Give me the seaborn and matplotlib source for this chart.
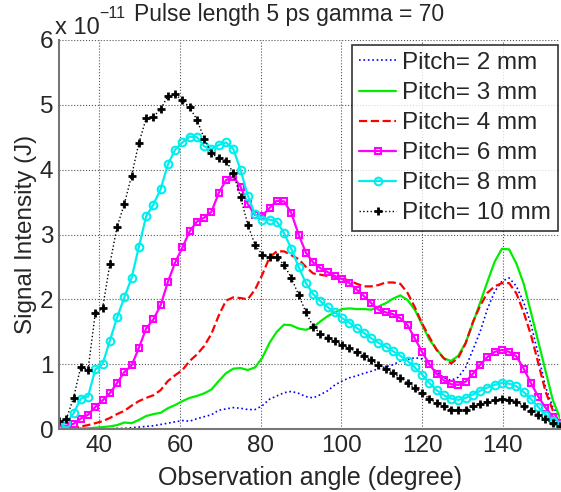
import matplotlib
matplotlib.use("Agg")
import matplotlib.pyplot as plt
import pandas as pd
import numpy as np
import seaborn as sns

sns.set_style("white")
plt.rcParams['font.family'] = ['Liberation Sans', 'DejaVu Sans']

# observation angle grid (degree), 1.8 deg steps from 30 to 154.2
angle = np.round(np.arange(70) * 1.8 + 30, 1)

# signal intensity in units of 1e-11 J
pitch_2 = [0.00, 0.00, 0.00, 0.00, 0.00, 0.00, 0.00, 0.00, 0.01, 0.01,
           0.02, 0.03, 0.04, 0.05, 0.07, 0.09, 0.11, 0.13, 0.12, 0.16,
           0.19, 0.22, 0.29, 0.31, 0.33, 0.32, 0.30, 0.30, 0.36, 0.46,
           0.51, 0.56, 0.58, 0.55, 0.50, 0.48, 0.53, 0.59, 0.68, 0.74,
           0.79, 0.82, 0.86, 0.89, 0.93, 0.96, 0.99, 1.05, 1.07, 1.10,
           1.08, 1.00, 0.88, 0.79, 0.75, 0.80, 0.95, 1.22, 1.50, 1.85,
           2.12, 2.28, 2.33, 2.20, 1.95, 1.62, 1.15, 0.65, 0.34, 0.18]
pitch_3 = [0.00, 0.00, 0.00, 0.01, 0.01, 0.02, 0.03, 0.04, 0.06, 0.10,
           0.09, 0.14, 0.20, 0.23, 0.25, 0.32, 0.37, 0.43, 0.48, 0.51,
           0.55, 0.61, 0.74, 0.86, 0.93, 0.94, 0.91, 0.95, 1.10, 1.33,
           1.50, 1.61, 1.60, 1.55, 1.53, 1.57, 1.66, 1.74, 1.80, 1.85,
           1.86, 1.85, 1.85, 1.84, 1.89, 1.94, 2.01, 2.06, 1.99, 1.84,
           1.61, 1.38, 1.23, 1.09, 1.05, 1.13, 1.33, 1.63, 1.95, 2.27,
           2.58, 2.78, 2.77, 2.55, 2.24, 1.80, 1.35, 0.90, 0.45, 0.17]
pitch_4 = [0.00, 0.01, 0.02, 0.04, 0.06, 0.09, 0.12, 0.17, 0.23, 0.28,
           0.36, 0.43, 0.48, 0.52, 0.60, 0.74, 0.83, 0.91, 1.05, 1.15,
           1.28, 1.47, 1.75, 1.98, 2.03, 2.02, 2.00, 2.15, 2.38, 2.65,
           2.74, 2.74, 2.68, 2.62, 2.50, 2.40, 2.38, 2.36, 2.35, 2.32,
           2.29, 2.24, 2.20, 2.20, 2.22, 2.26, 2.26, 2.24, 2.10, 1.88,
           1.63, 1.42, 1.22, 1.09, 1.01, 1.10, 1.32, 1.65, 1.90, 2.10,
           2.20, 2.25, 2.25, 2.09, 1.80, 1.45, 1.02, 0.58, 0.29, 0.08]
pitch_6 = [0.05, 0.05, 0.08, 0.16, 0.22, 0.34, 0.44, 0.55, 0.71, 0.88,
           0.98, 1.25, 1.55, 1.69, 1.91, 2.27, 2.57, 2.80, 3.05, 3.20,
           3.26, 3.35, 3.64, 3.84, 3.89, 3.74, 3.47, 3.30, 3.29, 3.41,
           3.52, 3.51, 3.33, 3.00, 2.72, 2.57, 2.48, 2.42, 2.36, 2.31,
           2.25, 2.15, 2.05, 1.94, 1.84, 1.80, 1.77, 1.71, 1.60, 1.40,
           1.19, 1.00, 0.85, 0.75, 0.69, 0.68, 0.73, 0.85, 0.99, 1.11,
           1.19, 1.22, 1.19, 1.12, 0.93, 0.71, 0.50, 0.33, 0.19, 0.09]
pitch_8 = [0.06, 0.10, 0.24, 0.47, 0.50, 0.92, 1.00, 1.36, 1.72, 2.03,
           2.33, 2.81, 3.28, 3.46, 3.70, 4.08, 4.31, 4.42, 4.51, 4.50,
           4.36, 4.32, 4.38, 4.42, 4.32, 4.00, 3.60, 3.31, 3.23, 3.23,
           3.20, 3.02, 2.78, 2.50, 2.25, 2.08, 1.97, 1.88, 1.80, 1.71,
           1.64, 1.56, 1.48, 1.40, 1.33, 1.27, 1.20, 1.13, 1.05, 0.95,
           0.84, 0.71, 0.60, 0.52, 0.47, 0.45, 0.48, 0.53, 0.59, 0.64,
           0.68, 0.71, 0.70, 0.66, 0.57, 0.46, 0.34, 0.22, 0.12, 0.06]
pitch_10 = [0.12, 0.15, 0.48, 0.96, 0.91, 1.79, 1.86, 2.54, 3.12, 3.47,
            3.91, 4.41, 4.79, 4.82, 4.93, 5.14, 5.16, 5.07, 4.96, 4.77,
            4.48, 4.25, 4.18, 4.14, 3.95, 3.58, 3.15, 2.84, 2.69, 2.66,
            2.65, 2.53, 2.33, 2.07, 1.80, 1.58, 1.47, 1.40, 1.35, 1.30,
            1.25, 1.18, 1.13, 1.06, 0.99, 0.92, 0.86, 0.79, 0.71, 0.63,
            0.55, 0.47, 0.40, 0.35, 0.30, 0.30, 0.30, 0.35, 0.39, 0.42,
            0.45, 0.46, 0.45, 0.42, 0.36, 0.28, 0.21, 0.15, 0.09, 0.04]

labels = ["Pitch= 2 mm", "Pitch= 3 mm", "Pitch= 4 mm",
          "Pitch= 6 mm", "Pitch= 8 mm", "Pitch= 10 mm"]

series = [pitch_2, pitch_3, pitch_4, pitch_6, pitch_8, pitch_10]
styles = [
    dict(color="#0000ff", linestyle=":", linewidth=1.2),
    dict(color="#00ee00", linestyle="-", linewidth=1.6),
    dict(color="#ff0000", linestyle="--", linewidth=1.6),
    dict(color="#ff00ff", linestyle="-", linewidth=1.6, marker="s",
         markersize=4.5, markeredgewidth=1.5, markerfacecolor="none",
         markeredgecolor="#ff00ff"),
    dict(color="#00eeee", linestyle="-", linewidth=1.6, marker="o",
         markersize=5.5, markeredgewidth=1.5, markerfacecolor="none",
         markeredgecolor="#00eeee"),
    dict(color="black", linestyle=":", linewidth=1.0, marker="+",
         markersize=6, markeredgewidth=2, markeredgecolor="black"),
]

fig = plt.figure(figsize=(5.61, 4.92), dpi=100)
ax = fig.add_axes([59 / 561, 1 - 429 / 492, 501 / 561, 389 / 492])

for vals, lab, st in zip(series, labels, styles):
    df = pd.DataFrame({"angle": angle, "signal": vals})
    sns.lineplot(data=df, x="angle", y="signal", ax=ax, label=lab, **st)

ax.set_xlim(30, 154.2)
ax.set_ylim(0, 6)
ax.set_xticks([40, 60, 80, 100, 120, 140])
ax.set_yticks([0, 1, 2, 3, 4, 5, 6])
ax.tick_params(direction="in", length=4, width=1, labelsize=17.5,
               color="#666666", pad=4)
ax.grid(True, linestyle=":", color="#555555", linewidth=0.8)
for side in ["top", "right"]:
    ax.spines[side].set_visible(False)
for side in ["left", "bottom"]:
    ax.spines[side].set_color("#777777")
    ax.spines[side].set_linewidth(1.5)

ax.set_xlabel("Observation angle (degree)", fontsize=18, labelpad=7)
ax.set_ylabel("Signal Intensity (J)", fontsize=17.5, labelpad=2)

# MATLAB-style exponent label above the y axis
fig.text(55 / 561, 1 - 28 / 492, "x 10", fontsize=17, va="center", ha="left")
fig.text(99 / 561, 1 - 13 / 492, "\u221211", fontsize=11.5,
         va="center", ha="left")
fig.text(289 / 561, 1 - 14 / 492, "Pulse length 5 ps gamma = 70",
         fontsize=16.5, va="center", ha="center")

leg = ax.legend(loc="upper right", bbox_to_anchor=(0.996, 0.988),
                borderaxespad=0, fontsize=17.5, frameon=True, fancybox=False,
                handlelength=1.5, labelspacing=0.33, handletextpad=0.25,
                borderpad=0.3)
leg.get_frame().set_edgecolor("black")
leg.get_frame().set_linewidth(1.2)

fig.savefig("out.png", dpi=100)
